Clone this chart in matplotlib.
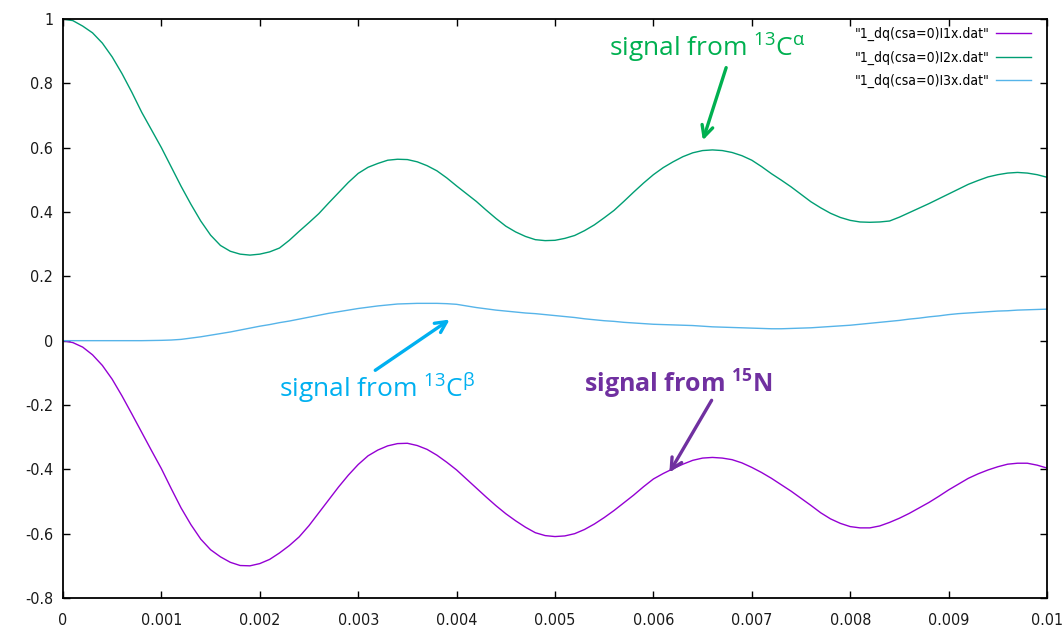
import numpy as np
import matplotlib
matplotlib.use("Agg")
import matplotlib.pyplot as plt

# time axis: 0 .. 10 ms, one sample every 0.1 ms
t = np.linspace(0.0, 0.01, 101)

# 15N signal
i1x = [0.0, -0.006, -0.02, -0.044, -0.077, -0.12, -0.172, -0.228, -0.285, -0.342,
       -0.398, -0.46, -0.52, -0.572, -0.617, -0.65, -0.672, -0.689, -0.699, -0.7,
       -0.693, -0.68, -0.66, -0.637, -0.61, -0.575, -0.535, -0.495, -0.455, -0.418,
       -0.385, -0.358, -0.34, -0.327, -0.32, -0.319, -0.326, -0.338, -0.356, -0.378,
       -0.402, -0.43, -0.458, -0.486, -0.513, -0.538, -0.56, -0.58, -0.597, -0.606,
       -0.609, -0.607, -0.6, -0.587, -0.57, -0.55, -0.528, -0.504, -0.48, -0.454,
       -0.43, -0.413, -0.398, -0.384, -0.372, -0.365, -0.363, -0.365, -0.37, -0.38,
       -0.394, -0.41, -0.428, -0.448, -0.468, -0.49, -0.512, -0.535, -0.554, -0.568,
       -0.578, -0.582, -0.582, -0.576, -0.565, -0.552, -0.537, -0.52, -0.503, -0.484,
       -0.464, -0.446, -0.428, -0.414, -0.402, -0.392, -0.384, -0.381, -0.381, -0.387,
       -0.396]

# 13C-alpha signal
i2x = [1.0, 0.995, 0.978, 0.957, 0.925, 0.882, 0.83, 0.772, 0.71, 0.655,
       0.60, 0.54, 0.48, 0.424, 0.372, 0.328, 0.296, 0.278, 0.269, 0.266,
       0.269, 0.276, 0.288, 0.312, 0.34, 0.367, 0.395, 0.428, 0.46, 0.492,
       0.52, 0.539, 0.551, 0.561, 0.564, 0.563, 0.556, 0.544, 0.528, 0.506,
       0.481, 0.457, 0.433, 0.406, 0.38, 0.356, 0.338, 0.324, 0.314, 0.311,
       0.312, 0.318, 0.327, 0.342, 0.36, 0.382, 0.405, 0.433, 0.462, 0.49,
       0.516, 0.538, 0.556, 0.572, 0.584, 0.591, 0.593, 0.591, 0.585, 0.575,
       0.561, 0.541, 0.519, 0.499, 0.478, 0.455, 0.432, 0.413, 0.396, 0.383,
       0.374, 0.369, 0.368, 0.369, 0.372, 0.384, 0.398, 0.412, 0.426, 0.441,
       0.456, 0.471, 0.486, 0.498, 0.509, 0.516, 0.521, 0.523, 0.521, 0.516,
       0.508]

# 13C-beta signal
i3x = [0.0, 0.0, 0.0, 0.0, 0.0, 0.0, 0.0, 0.0, 0.0, 0.0005,
       0.001, 0.002, 0.004, 0.008, 0.012, 0.017, 0.022, 0.027, 0.033, 0.039,
       0.045, 0.05, 0.056, 0.061, 0.067, 0.073, 0.079, 0.085, 0.09, 0.095,
       0.1, 0.104, 0.108, 0.111, 0.114, 0.115, 0.116, 0.116, 0.116, 0.115,
       0.113, 0.108, 0.103, 0.099, 0.095, 0.092, 0.089, 0.086, 0.084, 0.081,
       0.078, 0.075, 0.072, 0.068, 0.065, 0.062, 0.06, 0.057, 0.055, 0.053,
       0.051, 0.05, 0.049, 0.048, 0.047, 0.045, 0.043, 0.042, 0.041, 0.04,
       0.039, 0.038, 0.037, 0.037, 0.038, 0.039, 0.04, 0.042, 0.044, 0.046,
       0.048, 0.051, 0.054, 0.057, 0.06, 0.063, 0.067, 0.07, 0.074, 0.077,
       0.081, 0.084, 0.086, 0.088, 0.09, 0.092, 0.093, 0.095, 0.096, 0.097,
       0.098]

labels = ['"1_dq(csa=0)I1x.dat"', '"1_dq(csa=0)I2x.dat"', '"1_dq(csa=0)I3x.dat"']
colors = ["#9400D3", "#009E73", "#56B4E9"]

x_ticks = [0, 0.001, 0.002, 0.003, 0.004, 0.005, 0.006, 0.007, 0.008, 0.009, 0.01]
x_tick_labels = ["0", "0.001", "0.002", "0.003", "0.004", "0.005",
                 "0.006", "0.007", "0.008", "0.009", "0.01"]
y_ticks = [-0.8, -0.6, -0.4, -0.2, 0, 0.2, 0.4, 0.6, 0.8, 1]
y_tick_labels = ["-0.8", "-0.6", "-0.4", "-0.2", "0", "0.2", "0.4", "0.6", "0.8", "1"]

plt.rcParams["mathtext.fontset"] = "custom"
plt.rcParams["mathtext.rm"] = "Open Sans"
plt.rcParams["mathtext.bf"] = "Open Sans:bold"

fig = plt.figure(figsize=(10.64, 6.38), dpi=100)
ax = fig.add_axes([63 / 1064, 40 / 638, 984 / 1064, 579 / 638])

for ys, lab, col in zip([i1x, i2x, i3x], labels, colors):
    ax.plot(t, ys, color=col, lw=1.0, label=lab)

ax.set_xlim(0, 0.01)
ax.set_ylim(-0.8, 1.0)
ax.set_xticks(x_ticks)
ax.set_xticklabels(x_tick_labels)
ax.set_yticks(y_ticks)
ax.set_yticklabels(y_tick_labels)

for lbl in ax.get_xticklabels() + ax.get_yticklabels():
    lbl.set_fontfamily("DejaVu Sans")
    lbl.set_fontstretch("condensed")
    lbl.set_fontsize(11.5)
    lbl.set_color("#1a1a1a")
ax.tick_params(direction="in", length=5, width=1, top=True, right=True,
               color="black")
ax.tick_params(axis="x", pad=11)
ax.tick_params(axis="y", pad=7)
for sp in ax.spines.values():
    sp.set_linewidth(1.3)
    sp.set_color("black")

leg = ax.legend(loc="upper right", bbox_to_anchor=(0.9837, 0.986),
                frameon=False, markerfirst=False,
                prop={"family": "DejaVu Sans", "stretch": "condensed", "size": 10},
                handlelength=2.5, handletextpad=0.5, labelspacing=0.68,
                borderaxespad=0.0, borderpad=0.0)

# annotations
green = "#00B050"
blue = "#00B0F0"
purple = "#7030A0"
arrow = "->,head_length=0.8,head_width=0.4"

ax.annotate("", xy=(0.006494, 0.6146), xytext=(0.006748, 0.857),
            arrowprops=dict(arrowstyle=arrow, color=green, lw=2.4))
ax.text(0.00655, 0.882, r"signal from $\mathregular{^{13}C^{α}}$",
        color=green, fontsize=19, family="Open Sans", ha="center", va="baseline")

ax.annotate("", xy=(0.003953, 0.0706), xytext=(0.00315, -0.097),
            arrowprops=dict(arrowstyle=arrow, color=blue, lw=2.4))
ax.text(0.00319, -0.175, r"signal from $\mathregular{^{13}C^{β}}$",
        color=blue, fontsize=19, family="Open Sans", ha="center", va="baseline")

ax.annotate("", xy=(0.006148, -0.4175), xytext=(0.006606, -0.178),
            arrowprops=dict(arrowstyle=arrow, color=purple, lw=2.4))
ax.text(0.006255, -0.1626, r"signal from $\mathbf{^{15}N}$",
        color=purple, fontsize=18, family="Open Sans", fontweight="bold",
        ha="center", va="baseline")

fig.savefig("out.png", dpi=100)
